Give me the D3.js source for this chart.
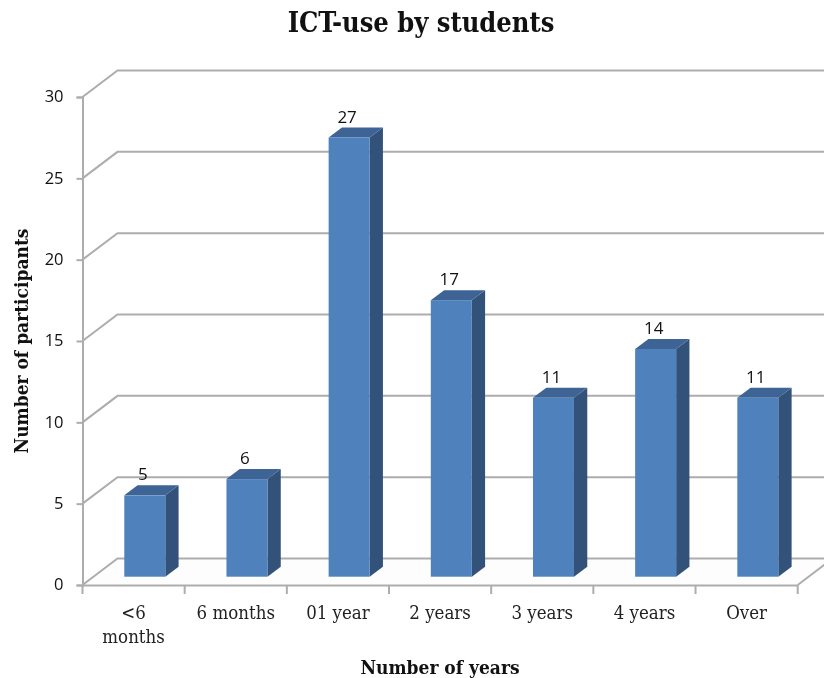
<!DOCTYPE html>
<html><head><meta charset="utf-8">
<script src="https://cdn.jsdelivr.net/npm/d3@7/dist/d3.min.js"></script>
<style>
html,body{margin:0;padding:0;background:#fff;overflow:hidden}
svg{display:block;filter:blur(0.4px)}
</style></head><body>
<svg id="c" width="824" height="678"></svg>
<script>
const categories = ["<6|months","6 months","01 year","2 years","3 years","4 years","Over"];
const values = [5,6,27,17,11,14,11];
const yTicks = [0,5,10,15,20,25,30];
const titleText = "ICT-use by students";
const xTitleText = "Number of years";
const yTitleText = "Number of participants";

const svg = d3.select("#c");
const x = d3.scaleBand().domain(categories).range([82.5,797.7]);
const y = d3.scaleLinear().domain([0,30]).range([585,97]);
const wallDx = 35, wallDy = -26.5;
const gridCol = "#adadad";
const serif = "'DejaVu Serif Condensed','DejaVu Serif','Liberation Serif',serif";
const sans = "'Open Sans','Noto Sans',sans-serif";

// floor
const rx = 797.7;
svg.append("path").attr("d",`M82.5,585L${82.5+wallDx},${585+wallDy}L${rx+wallDx},${585+wallDy}L${rx},585Z`).attr("fill","#fdfdfd");

// wall gridlines
const grid = svg.append("g").attr("fill","none").attr("stroke",gridCol).attr("stroke-width",2);
yTicks.forEach(t=>{
  grid.append("path").attr("d",`M82.5,${y(t)}L${82.5+wallDx},${y(t)+wallDy}L830,${y(t)+wallDy}`);
});
grid.append("line").attr("x1",rx).attr("y1",585).attr("x2",rx+wallDx).attr("y2",585+wallDy);

// axes
const yAxis = d3.axisLeft(y).tickValues(yTicks).tickSize(6).tickPadding(13);
const gy = svg.append("g").attr("transform","translate(82.5,0)").call(yAxis);
gy.selectAll("path").attr("stroke",gridCol).attr("stroke-width",2);
gy.selectAll("line").attr("stroke",gridCol).attr("stroke-width",2);
gy.selectAll("text").attr("font-family",sans).attr("font-size",16.5).attr("fill","#111").attr("dy","0.3em");

const xAxis = d3.axisBottom(x).tickSize(0).tickFormat("");
const gx = svg.append("g").attr("transform","translate(0,585)").call(xAxis);
gx.select("path").attr("stroke",gridCol).attr("stroke-width",2);
const edges = d3.range(categories.length+1).map(i=>i===categories.length? x.range()[1] : x(categories[i]));
gx.selectAll("line.edge").data(edges).join("line").attr("class","edge")
  .attr("x1",d=>d).attr("x2",d=>d).attr("y1",0).attr("y2",9).attr("stroke",gridCol).attr("stroke-width",2);

// 3D bars
const barW = 41, depthX = 13.3, depthY = -10, shiftX = 11.2, shiftY = -8.3;
const cols = {front:"#4f81bd", side:"#335279", top:"#3d6495"};
const bars = svg.append("g").selectAll("g").data(values).join("g");
const cx = (d,i)=>x(categories[i])+x.bandwidth()/2+shiftX;
const yb = v=>y(v)+shiftY;
bars.append("path").attr("fill",cols.side).attr("d",(d,i)=>{
  const r=cx(d,i)+barW/2;
  return `M${r},${yb(d)}L${r+depthX},${yb(d)+depthY}L${r+depthX},${yb(0)+depthY}L${r},${yb(0)}Z`;});
bars.append("path").attr("fill",cols.top).attr("d",(d,i)=>{
  const l=cx(d,i)-barW/2,r=l+barW;
  return `M${l},${yb(d)}L${l+depthX},${yb(d)+depthY}L${r+depthX},${yb(d)+depthY}L${r},${yb(d)}Z`;});
bars.append("rect").attr("fill",cols.front)
  .attr("x",(d,i)=>cx(d,i)-barW/2).attr("y",d=>yb(d)).attr("width",barW).attr("height",d=>yb(0)-yb(d));
bars.append("text").text(d=>d).attr("x",(d,i)=>cx(d,i)-2).attr("y",d=>yb(d)-15)
  .attr("text-anchor","middle").attr("font-family",sans).attr("font-size",17).attr("fill","#111");

// category labels
const cat = svg.append("g").selectAll("text").data(categories).join("text")
  .attr("text-anchor","middle").attr("font-family",serif).attr("font-size",18.5).attr("fill","#222")
  .attr("y",619);
cat.each(function(d){
  const el=d3.select(this), cxv=x(d)+x.bandwidth()/2;
  d.split("|").forEach((s,i)=>el.append("tspan").attr("x",cxv).attr("dy",i?24:0).text(s));
});

// titles
svg.append("text").text(titleText).attr("x",421).attr("y",32).attr("text-anchor","middle")
  .attr("font-family",serif).attr("font-weight","bold").attr("font-size",27).attr("fill","#111");
svg.append("text").text(xTitleText).attr("x",440).attr("y",674).attr("text-anchor","middle")
  .attr("font-family",serif).attr("font-weight","bold").attr("font-size",19).attr("fill","#111");
svg.append("text").text(yTitleText).attr("transform","translate(28,341) rotate(-90)").attr("text-anchor","middle")
  .attr("font-family",serif).attr("font-weight","bold").attr("font-size",19).attr("fill","#111");
</script></body></html>
